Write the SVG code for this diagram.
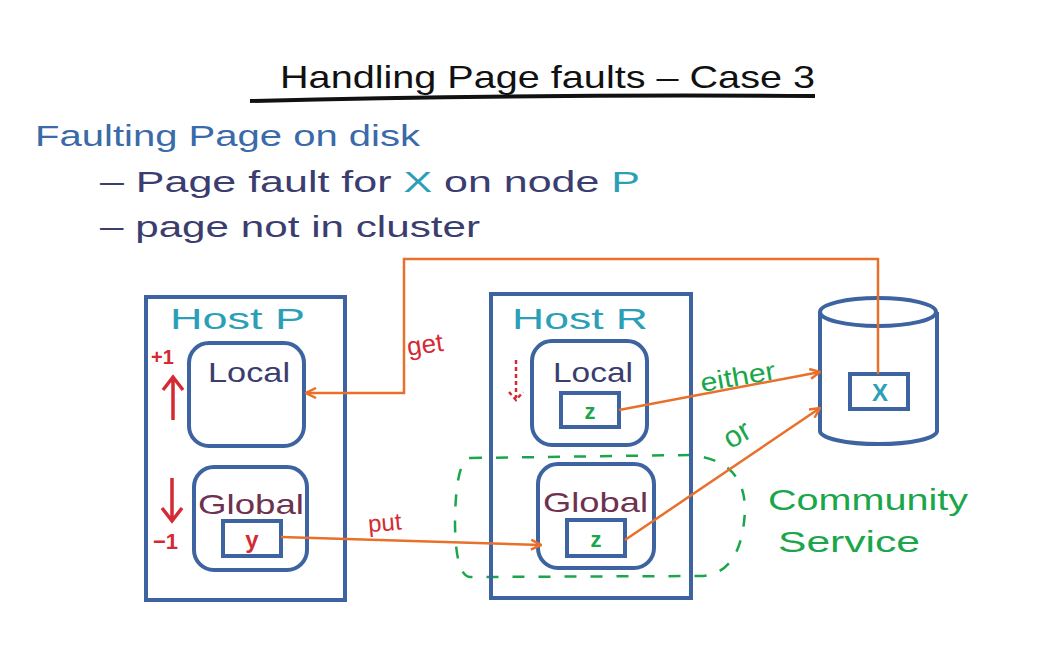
<svg xmlns="http://www.w3.org/2000/svg" width="1037" height="666" viewBox="0 0 1037 666">
<defs>
<style>
.box{fill:none;stroke:#3d64a0;stroke-width:4}
.conn{fill:none;stroke:#e8702a;stroke-width:2.5}
.t{font-family:"Liberation Sans",Arial,sans-serif}
.host{fill:#2b9fb7;font-size:30px}
.loc{fill:#3a3d6e;font-size:28px}
.glob{fill:#6e3150;font-size:28px}
.red{fill:#d42a34}
.grn{fill:#1aa64a}
</style>
<marker id="ah" viewBox="0 0 12 12" refX="11" refY="6" markerWidth="12" markerHeight="12" markerUnits="userSpaceOnUse" orient="auto">
<path d="M1,1 L11,6 L1,11" fill="none" stroke="#e8702a" stroke-width="2.5"/>
</marker>
</defs>
<rect width="1037" height="666" fill="#fff"/>

<g id="title">
<text class="t" x="280" y="88" font-size="32" fill="#111" textLength="535" lengthAdjust="spacingAndGlyphs">Handling Page faults – Case 3</text>
<path d="M250,101 Q520,94 815,96" stroke="#111" stroke-width="4" fill="none"/>
</g>
<g id="bullets" class="t">
<text x="35" y="146" font-size="30" fill="#3a6aa8" textLength="385" lengthAdjust="spacingAndGlyphs">Faulting Page on disk</text>
<text x="100" y="192" font-size="30" fill="#3a3d6e" textLength="540" lengthAdjust="spacingAndGlyphs">– Page fault for <tspan fill="#2b9fb7">X</tspan> on node <tspan fill="#2b9fb7">P</tspan></text>
<text x="100" y="237" font-size="30" fill="#3a3d6e" textLength="380" lengthAdjust="spacingAndGlyphs">– page not in cluster</text>
</g>

<g id="community">
<path d="M470,458 L690,455 Q745,460 745,510 Q742,575 700,576 L470,577 Q455,575 455,520 Q456,460 470,458 Z" fill="none" stroke="#1aa64a" stroke-width="2.5" stroke-dasharray="12,14"/>
<text class="t grn" x="768" y="510" font-size="30" textLength="200" lengthAdjust="spacingAndGlyphs">Community</text>
<text class="t grn" x="778" y="552" font-size="30" textLength="142" lengthAdjust="spacingAndGlyphs">Service</text>
</g>

<g id="hostP">
<rect class="box" x="146" y="297" width="199" height="303"/>
<text class="t host" x="170" y="329" textLength="135" lengthAdjust="spacingAndGlyphs">Host P</text>
<rect class="box" x="189" y="343" width="115" height="103" rx="20"/>
<text class="t loc" x="208" y="382" textLength="82" lengthAdjust="spacingAndGlyphs">Local</text>
<rect class="box" x="194" y="467" width="113" height="103" rx="20"/>
<text class="t glob" x="198" y="514" textLength="106" lengthAdjust="spacingAndGlyphs">Global</text>
<rect class="box" x="223" y="521" width="58" height="35"/>
<text class="t red" x="252" y="548" font-size="24" font-weight="bold" text-anchor="middle">y</text>
<text class="t red" x="151" y="364" font-size="20" font-weight="bold">+1</text>
<path d="M173,420 V378 M163,390 L173,377 L183,390" stroke="#d42a34" stroke-width="3.5" fill="none"/>
<path d="M172,478 V520 M162,508 L172,521 L182,508" stroke="#d42a34" stroke-width="3.5" fill="none"/>
<text class="t red" x="153" y="549" font-size="22" font-weight="bold">−1</text>
</g>

<g id="hostR">
<rect class="box" x="491" y="294" width="200" height="304"/>
<text class="t host" x="512" y="329" textLength="136" lengthAdjust="spacingAndGlyphs">Host R</text>
<rect class="box" x="532" y="341" width="115" height="104" rx="20"/>
<text class="t loc" x="553" y="382" textLength="80" lengthAdjust="spacingAndGlyphs">Local</text>
<rect class="box" x="561" y="393" width="58" height="34"/>
<text class="t grn" x="590" y="419" font-size="22" font-weight="bold" text-anchor="middle">z</text>
<rect class="box" x="538" y="464" width="116" height="104" rx="20"/>
<text class="t glob" x="543" y="512" textLength="105" lengthAdjust="spacingAndGlyphs">Global</text>
<rect class="box" x="567" y="520" width="58" height="36"/>
<text class="t grn" x="596" y="547" font-size="22" font-weight="bold" text-anchor="middle">z</text>
<path d="M516,360 V398 M509,392 L516,400 L523,392" stroke="#d42a34" stroke-width="2.5" fill="none" stroke-dasharray="4,3"/>
</g>

<g id="disk">
<path d="M820,312 V431 A58,13 0 0 0 937,431 V312" fill="#fff" stroke="#3d64a0" stroke-width="4"/>
<ellipse cx="878" cy="312" rx="58" ry="14" fill="#fff" stroke="#3d64a0" stroke-width="4"/>
<rect class="box" x="850" y="374" width="58" height="35"/>
<text class="t" x="880" y="401" font-size="24" font-weight="bold" fill="#2b9fb7" text-anchor="middle">X</text>
</g>

<g id="connectors">
<path class="conn" d="M878,374 V259 H404 V393 H306" marker-end="url(#ah)"/>
<text class="t red" x="407" y="353" font-size="26" transform="rotate(-8 428 345)">get</text>
<path class="conn" d="M281,537 L541,545" marker-end="url(#ah)"/>
<text class="t red" x="368" y="530" font-size="24" transform="rotate(-5 395 522)">put</text>
<path class="conn" d="M619,410 L820,372" marker-end="url(#ah)"/>
<text class="t grn" x="700" y="386" font-size="26" textLength="76" lengthAdjust="spacingAndGlyphs" transform="rotate(-10 735 378)">either</text>
<path class="conn" d="M625,540 L820,408" marker-end="url(#ah)"/>
<text class="t grn" x="722" y="441" font-size="30" transform="rotate(-30 742 430)">or</text>
</g>
</svg>
